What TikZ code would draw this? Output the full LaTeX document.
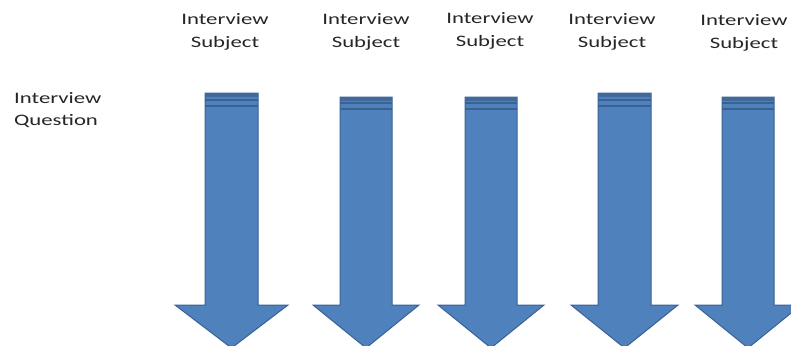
\documentclass[tikz,border=0pt]{standalone}
\usepackage{fontspec}
\setmainfont{Carlito}[FakeStretch=1.42]
\definecolor{arrowblue}{HTML}{4F81BD}
\definecolor{arrowedge}{HTML}{3A6194}
\definecolor{arrowband}{HTML}{41699C}
\tikzset{
  blockarrow/.style={fill=arrowblue, draw=arrowedge, line width=1pt, line join=miter},
  stripe/.style={draw=arrowedge, line width=1.4pt},
  subject/.style={align=center, font=\fontsize{16}{23}\selectfont, inner sep=0pt, text=black!85},
  question/.style={align=left, font=\fontsize{16}{22}\selectfont, inner sep=0pt, anchor=west, text=black!85}
}

\begin{document}
\begin{tikzpicture}[x=1pt,y=-1pt]
        \clip (0,0) rectangle (791,345);
        \fill[white] (0,0) rectangle (791,345);
        % labels
        \node[question] (quest) at (14,110) {Interview\\Question};
        \node[subject] (subj1) at (225,32) {Interview\\Subject};
        \node[subject] (subj2) at (366,32) {Interview\\Subject};
        \node[subject] (subj3) at (490,31) {Interview\\Subject};
        \node[subject] (subj4) at (612,32) {Interview\\Subject};
        \node[subject] (subj5) at (744,33) {Interview\\Subject};
        % arrows
        \draw[blockarrow] (205,93) -- (258,93) -- (258,305) -- (288,305) -- (231.5,348) -- (175,305) -- (205,305) -- cycle;
        \draw[blockarrow] (340,97) -- (392,97) -- (392,305) -- (419,305) -- (366,348) -- (313,305) -- (340,305) -- cycle;
        \draw[blockarrow] (465,97) -- (517,97) -- (517,305) -- (544,305) -- (491,348) -- (438,305) -- (465,305) -- cycle;
        \draw[blockarrow] (598,93) -- (651,93) -- (651,305) -- (678,305) -- (624.5,348) -- (571,305) -- (598,305) -- cycle;
        \draw[blockarrow] (722,97) -- (774,97) -- (774,305) -- (801,305) -- (748,348) -- (695,305) -- (722,305) -- cycle;
        % striped tops
        \fill[arrowband] (205,93) rectangle (258,97);
        \draw[stripe] (205,100) -- (258,100);
        \draw[stripe] (205,106) -- (258,106);
        \fill[arrowband] (340,97) rectangle (392,101);
        \draw[stripe] (340,103) -- (392,103);
        \draw[stripe] (340,109) -- (392,109);
        \fill[arrowband] (465,97) rectangle (517,101);
        \draw[stripe] (465,103) -- (517,103);
        \draw[stripe] (465,109) -- (517,109);
        \fill[arrowband] (598,93) rectangle (651,97);
        \draw[stripe] (598,100) -- (651,100);
        \draw[stripe] (598,106) -- (651,106);
        \fill[arrowband] (722,97) rectangle (774,101);
        \draw[stripe] (722,103) -- (774,103);
        \draw[stripe] (722,109) -- (774,109);
\end{tikzpicture}
\end{document}
